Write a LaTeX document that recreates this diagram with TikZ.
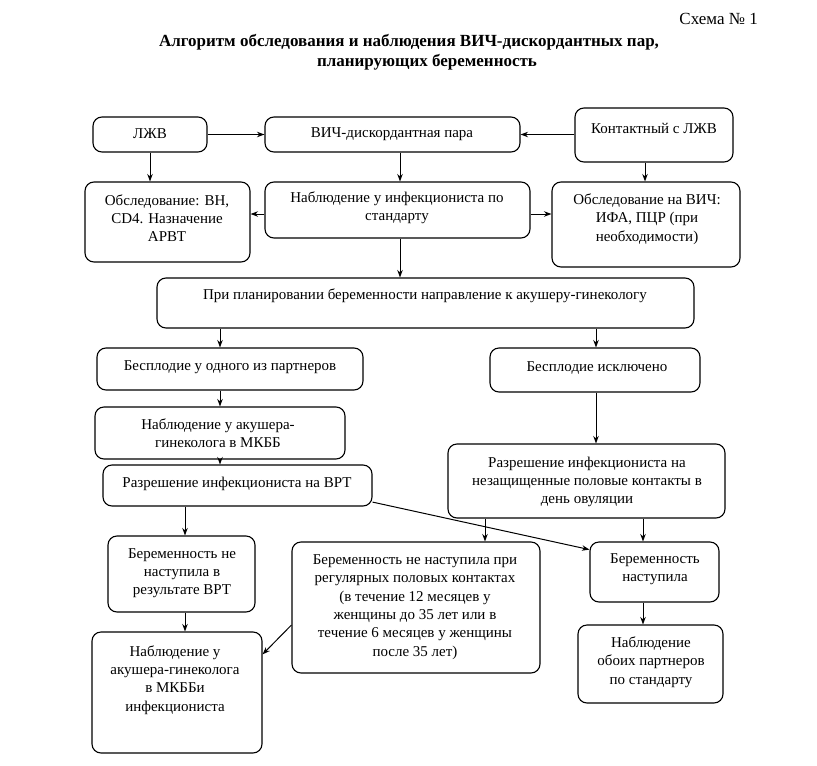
\documentclass[tikz,border=0pt]{standalone}
\usepackage{fontspec}
\setmainfont{Liberation Serif}
\usetikzlibrary{arrows.meta}
\tikzset{
 box/.style={draw, line width=1.1pt, rounded corners=9pt, inner sep=0pt},
 txt/.style={align=center, inner sep=0pt, font=\fontsize{15}{18.3}\selectfont},
 ttl/.style={inner sep=0pt, font=\fontsize{17}{20.5}\selectfont\bfseries},
 arr/.style={-{Stealth[length=7.5pt,width=5.5pt]}, line width=1pt},
}
\newcommand\mkbox[5]{\node[box, minimum width={(#4)-(#2)}, minimum height={(#5)-(#3)}] (#1) at ({((#2)+(#4))/2},{((#3)+(#5))/2}) {};}
\begin{document}
\begin{tikzpicture}[x=1pt,y=-1pt]
\useasboundingbox (0,0) rectangle (817,766);
% titles
\node[anchor=east, inner sep=0pt, font=\fontsize{17}{20}\selectfont] (schema) at (758,19) {Схема № 1};
\node[ttl] (title1) at (409,42) {Алгоритм обследования и наблюдения ВИЧ-дискордантных пар,};
\node[ttl] (title2) at (427,62) {планирующих беременность};
% boxes
\mkbox{ljv}{93}{117}{207}{152}
\mkbox{pair}{265}{117}{520}{152}
\mkbox{kont}{575}{108}{733}{162}
\mkbox{obvn}{85}{182}{250}{262}
\mkbox{nabl}{265}{182}{530}{238}
\mkbox{obhiv}{552}{182}{740}{267}
\mkbox{plan}{157}{278}{694}{328}
\mkbox{bes1}{97}{348}{363}{390}
\mkbox{besisk}{490}{348}{700}{392}
\mkbox{nakush}{95}{407}{345}{459}
\mkbox{razvrt}{103}{465}{372}{506}
\mkbox{raznez}{448}{444}{725}{518}
\mkbox{bnv}{108}{536}{255}{612}
\mkbox{bnr}{292}{542}{540}{673}
\mkbox{bn}{590}{542}{719}{602}
\mkbox{nab2}{92}{632}{262}{753}
\mkbox{nabobe}{578}{625}{723}{703}
% texts
\node[txt] (t1) at (150,134) {ЛЖВ};
\node[txt] (t2) at (392,134) {ВИЧ-дискордантная пара};
\node[txt] (t3) at (654,128) {Контактный с ЛЖВ};
\node[txt] (t4) at (167,218) {Обследование: ВН,\\ CD4. Назначение\\ АРВТ};
\node[txt] (t5) at (397,208) {Наблюдение у инфекциониста по\\ стандарту};
\node[txt] (t6) at (647,219) {Обследование на ВИЧ:\\ ИФА, ПЦР (при\\ необходимости)};
\node[txt] (t7) at (425,296) {При планировании беременности направление к акушеру-гинекологу};
\node[txt] (t8) at (230,367) {Бесплодие у одного из партнеров};
\node[txt] (t9) at (597,368) {Бесплодие исключено};
\node[txt] (t10) at (218,433) {Наблюдение у акушера-\\ гинеколога в МКББ};
\node[txt] (t11) at (237,484) {Разрешение инфекциониста на ВРТ};
\node[txt] (t12) at (587,482) {Разрешение инфекциониста на\\ незащищенные половые контакты в\\ день овуляции};
\node[txt] (t13) at (182,573) {Беременность не\\ наступила в\\ результате ВРТ};
\node[txt] (t14) at (415,607) {Беременность не наступила при\\ регулярных половых контактах\\ (в течение 12 месяцев у\\ женщины до 35 лет или в\\ течение 6 месяцев у женщины\\ после 35 лет)};
\node[txt] (t15) at (655,569) {Беременность\\ наступила};
\node[txt] (t16) at (175,680) {Наблюдение у\\ акушера-гинеколога\\ в МКББи\\ инфекциониста};
\node[txt] (t17) at (651,662) {Наблюдение\\ обоих партнеров\\ по стандарту};
% helper coordinates
\coordinate (x400) at (400,0);
\coordinate (x220) at (220,0);
\coordinate (x596) at (596,0);
\coordinate (x185) at (185,0);
\coordinate (x485) at (485,0);
\coordinate (x643) at (643,0);
\coordinate (x645) at (645,0);
\coordinate (y214) at (0,214);
% arrows
\draw[arr] (ljv.east) -- (pair.west);
\draw[arr] (kont.west |- pair.east) -- (pair.east);
\draw[arr] (ljv.south) -- (ljv.south |- obvn.north);
\draw[arr] (pair.south -| x400) -- (nabl.north -| x400);
\draw[arr] (kont.south -| x645) -- (obhiv.north -| x645);
\draw[arr] (nabl.west |- y214) -- (obvn.east |- y214);
\draw[arr] (nabl.east |- y214) -- (obhiv.west |- y214);
\draw[arr] (nabl.south -| x400) -- (plan.north -| x400);
\draw[arr] (plan.south -| x220) -- (bes1.north -| x220);
\draw[arr] (plan.south -| x596) -- (besisk.north -| x596);
\draw[arr] (bes1.south -| x220) -- (nakush.north -| x220);
\draw[arr] (nakush.south -| x220) -- (razvrt.north -| x220);
\draw[arr] (besisk.south -| x596) -- (raznez.north -| x596);
\draw[arr] (razvrt.south -| x185) -- (bnv.north -| x185);
\draw[arr] (razvrt.-7) -- (bn.161.2);
\draw[arr] (raznez.south -| x485) -- (bnr.north -| x485);
\draw[arr] (raznez.south -| x643) -- (bn.north -| x643);
\draw[arr] (bnv.south -| x185) -- (nab2.north -| x185);
\draw[arr] (bnr.188) -- (nab2.24.9);
\draw[arr] (bn.south -| x643) -- (nabobe.north -| x643);
\end{tikzpicture}
\end{document}
